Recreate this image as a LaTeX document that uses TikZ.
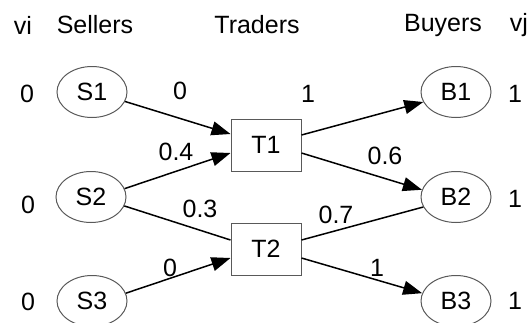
\documentclass[tikz,border=0pt]{standalone}
\usepackage{fontspec}
\setmainfont{Liberation Sans}
\usetikzlibrary{shapes.geometric,arrows.meta}
\begin{document}
\begin{tikzpicture}[x=1pt,y=-1pt,
  every node/.style={font=\fontsize{25}{25}\selectfont, inner sep=0pt},
  party/.style={ellipse, draw=black!65, line width=1pt, minimum width=70pt, minimum height=51pt},
  trader/.style={rectangle, draw=black!65, line width=1pt, minimum width=70pt, minimum height=52pt},
  arr/.style={draw=black, line width=1.5pt, -{Triangle[length=19pt,width=14pt]}},
  plain/.style={draw=black, line width=1.5pt}]
\useasboundingbox (0,0) rectangle (529,322);
% headers
\node (hvi) at (23,25) {vi};
\node (hs) at (95,25) {Sellers};
\node (ht) at (257,25) {Traders};
\node (hb) at (443,25) {Buyers};
\node (hvj) at (519,25) {vj};
% sellers
\node[party] (S1) at (92,92) {S1};
\node[party] (S2) at (91,197) {S2};
\node[party] (S3) at (92,301) {S3};
% traders
\node[trader] (T1) at (266,145) {T1};
\node[trader] (T2) at (266,249) {T2};
% buyers
\node[party] (B1) at (456,92) {B1};
\node[party] (B2) at (456,197) {B2};
\node[party] (B3) at (456,301) {B3};
% values
\node (v1) at (27,94) {0};
\node (v2) at (28,205) {0};
\node (v3) at (28,302) {0};
\node (w1) at (515,94) {1};
\node (w2) at (515,199) {1};
\node (w3) at (515,301) {1};
% edges
\draw[arr] (S1.-16) -- ([yshift=11pt]T1.west);
\draw[arr] (S2.14) -- ([yshift=-8pt]T1.west);
\draw[plain] (S2.-15) -- ([yshift=9pt]T2.west);
\draw[arr] (S3.13) -- ([yshift=-9pt]T2.west);
\draw[arr] ([yshift=10pt]T1.east) -- (B1.197);
\draw[arr] ([yshift=-8pt]T1.east) -- (B2.168);
\draw[plain] ([yshift=9pt]T2.east) -- (B2.197);
\draw[arr] ([yshift=-9pt]T2.east) -- (B3.167);
% edge labels
\node (e1) at (180,91) {0};
\node (e2) at (308,94) {1};
\node (e3) at (176,152) {0.4};
\node (e4) at (385,156) {0.6};
\node (e5) at (200,209) {0.3};
\node (e6) at (336,215) {0.7};
\node (e7) at (170,268) {0};
\node (e8) at (377,268) {1};
\end{tikzpicture}
\end{document}
